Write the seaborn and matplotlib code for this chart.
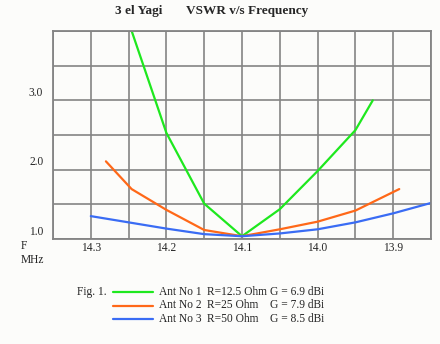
import numpy as np
import pandas as pd
import seaborn as sns
import matplotlib
matplotlib.use("Agg")
import matplotlib.pyplot as plt
from matplotlib.lines import Line2D
from matplotlib.transforms import ScaledTranslation

# ---- data ----
ant1_freq = [14.25, 14.20, 14.15, 14.10, 14.05, 14.00, 13.95, 13.927]
ant1_vswr = [4.13, 2.53, 1.51, 1.04, 1.43, 1.98, 2.57, 3.00]
ant2_freq = [14.28, 14.246, 14.20, 14.15, 14.10, 14.05, 14.00, 13.95, 13.892]
ant2_vswr = [2.12, 1.72, 1.42, 1.13, 1.04, 1.14, 1.25, 1.41, 1.72]
ant3_freq = [14.30, 14.25, 14.20, 14.15, 14.10, 14.05, 14.00, 13.95, 13.90, 13.85]
ant3_vswr = [1.33, 1.24, 1.15, 1.07, 1.04, 1.08, 1.14, 1.24, 1.37, 1.52]

series_names = ["Ant No 1", "Ant No 2", "Ant No 3"]
series_R = ["R=12.5 Ohm", "R=25 Ohm", "R=50 Ohm"]
series_G = ["G = 6.9 dBi", "G = 7.9 dBi", "G = 8.5 dBi"]
colors = ["#1ee81e", "#ff6818", "#3a6cf4"]

x_ticks = [14.3, 14.2, 14.1, 14.0, 13.9]
x_ticklabels = ["14.3", "14.2", "14.1", "14.0", "13.9"]
y_ticks = [1.0, 2.0, 3.0]
y_ticklabels = ["1.0", "2.0", "3.0"]

df = pd.concat([
    pd.DataFrame({"freq": ant1_freq, "vswr": ant1_vswr, "ant": series_names[0]}),
    pd.DataFrame({"freq": ant2_freq, "vswr": ant2_vswr, "ant": series_names[1]}),
    pd.DataFrame({"freq": ant3_freq, "vswr": ant3_vswr, "ant": series_names[2]}),
])

sns.set_style("white")
plt.rcParams["font.family"] = ["Liberation Serif", "DejaVu Serif"]

bg = "#fcfcfa"
fig = plt.figure(figsize=(4.4, 3.44), dpi=100, facecolor=bg)
ax = fig.add_axes([53/440, 1-239/344, (431-53)/440, (239-31)/344])
ax.set_facecolor(bg)

sns.lineplot(data=df, x="freq", y="vswr", hue="ant", palette=colors,
             linewidth=1.6, legend=False, ax=ax, sort=True, estimator=None)

ax.set_xlim(14.35, 13.85)
ax.set_ylim(1.0, 4.0)

# grid
grid_x = np.arange(13.85, 14.351, 0.05)
grid_y = np.arange(1.0, 4.01, 0.5)
for gx in grid_x:
    ax.axvline(gx, color="#848484", lw=1.2, zorder=0)
for gy in grid_y:
    ax.axhline(gy, color="#848484", lw=1.2, zorder=0)
for s in ax.spines.values():
    s.set_color("#848484")
    s.set_linewidth(1.3)

ax.set_xticks(x_ticks)
ax.set_xticklabels(x_ticklabels, fontsize=8.3)
ax.set_yticks(y_ticks)
ax.set_yticklabels(y_ticklabels, fontsize=8.3)
ax.tick_params(axis="x", length=0, pad=2.5)
ax.tick_params(axis="y", length=0, pad=7)
off = ScaledTranslation(0, 0.087, fig.dpi_scale_trans)
for lab in ax.get_yticklabels():
    lab.set_transform(lab.get_transform() + off)
ax.set_xlabel("")
ax.set_ylabel("")

# title
fig.text(115/440, 1-11/344, "3 el Yagi", ha="left", va="center",
         fontsize=9.5, fontweight="bold")
fig.text(186/440, 1-11/344, "VSWR v/s Frequency", ha="left", va="center",
         fontsize=9.5, fontweight="bold")

# axis unit labels
fig.text(21/440, 1-246/344, "F", ha="left", va="center", fontsize=8.3)
fig.text(21/440, 1-260/344, "MHz", ha="left", va="center", fontsize=8.3)

# legend
rows_y = [292, 305.5, 319]
fig.text(77/440, 1-rows_y[0]/344, "Fig. 1.", ha="left", va="center", fontsize=8.3)
for i in range(3):
    yy = 1 - rows_y[i]/344
    fig.add_artist(Line2D([113/440, 153/440], [yy, yy], color=colors[i],
                          lw=1.6, transform=fig.transFigure))
    fig.text(159/440, yy, series_names[i], ha="left", va="center", fontsize=8.3)
    fig.text(207/440, yy, series_R[i], ha="left", va="center", fontsize=8.3)
    fig.text(270/440, yy, series_G[i], ha="left", va="center", fontsize=8.3)

fig.savefig("out.png", dpi=100, facecolor=bg)
